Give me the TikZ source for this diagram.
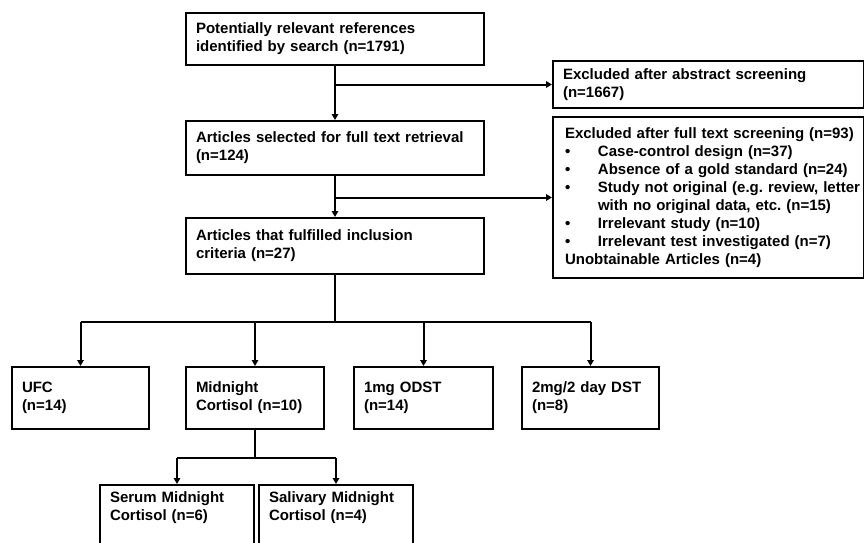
\documentclass[tikz,border=0pt]{standalone}
\usepackage{fontspec}
\setmainfont{Liberation Sans}
\usetikzlibrary{arrows.meta}
\frenchspacing
\newcommand{\bul}{\makebox[33pt][l]{•}}
\begin{document}
\begin{tikzpicture}[x=1pt,y=-1pt,
  box/.style={draw=black, line width=2pt, anchor=north west, align=left,
    inner xsep=10pt, inner ysep=0pt, font=\fontsize{15pt}{18pt}\selectfont\bfseries\frenchspacing},
  conn/.style={line width=2pt, draw=black},
  arr/.style={conn, -{Triangle[length=6pt,width=6.5pt]}}]
\useasboundingbox (0,0) rectangle (864,543);
\clip (0,0) rectangle (864,543);
\fill[white] (0,0) rectangle (864,543);
% main column
\node[box, minimum width=298pt, minimum height=52pt, text width=278pt] (b1) at (185,12)
  {Potentially relevant references\\identified by search (n=1791)};
\node[box, minimum width=298pt, minimum height=54pt, text width=278pt] (b2) at (185,120)
  {Articles selected for full text retrieval\\(n=124)};
\node[box, minimum width=298pt, minimum height=56pt, text width=278pt] (b3) at (185,217)
  {Articles that fulfilled inclusion\\criteria (n=27)};
% exclusions
\node[box, minimum width=311pt, minimum height=47pt, text width=291pt] (ex1) at (552,60)
  {Excluded after abstract screening\\(n=1667)};
\node[box, minimum width=311pt, minimum height=161pt, text width=287pt, inner xsep=12pt, inner ysep=4pt] (ex2) at (552,116)
  {\mbox{Excluded after full text screening (n=93)}\\
   \mbox{\bul Case-control design (n=37)}\\
   \mbox{\bul Absence of a gold standard (n=24)}\\
   \mbox{\bul Study not original (e.g. review, letter}\\
   \mbox{\hspace*{33pt}with no original data, etc. (n=15)}\\
   \mbox{\bul Irrelevant study (n=10)}\\
   \mbox{\bul Irrelevant test investigated (n=7)}\\
   \mbox{Unobtainable Articles (n=4)}};
% tests
\node[box, minimum width=137pt, minimum height=62pt, text width=117pt] (ufc) at (11,366)
  {UFC\\(n=14)};
\node[box, minimum width=138pt, minimum height=62pt, text width=118pt] (mid) at (185,366)
  {Midnight\\Cortisol (n=10)};
\node[box, minimum width=139pt, minimum height=62pt, text width=119pt] (odst) at (353,366)
  {1mg ODST\\(n=14)};
\node[box, minimum width=137pt, minimum height=62pt, text width=117pt] (dst) at (521,366)
  {2mg/2 day DST\\(n=8)};
% midnight subtypes (boxes run past the bottom edge)
\node[box, minimum width=154pt, text width=134pt, inner ysep=7pt, text depth=40pt] (serum) at (99,484)
  {Serum Midnight\\Cortisol (n=6)};
\node[box, minimum width=154pt, text width=134pt, inner ysep=7pt, text depth=40pt] (saliv) at (258,484)
  {Salivary Midnight\\Cortisol (n=4)};
% connectors
\coordinate (j1) at (b1.south |- ex1.west);
\coordinate (j2) at (b2.south |- ex2.west);
\draw[arr] (b1.south) -- (b2.north);
\draw[arr] (j1) -- (ex1.west);
\draw[arr] (b2.south) -- (b3.north);
\draw[arr] (j2) -- (ex2.west);
\coordinate (j3) at ([yshift=-47pt]b3.south);
\draw[conn] (b3.south) -- (j3);
\draw[conn] (ufc.north |- j3) -- (dst.north |- j3);
\foreach \t in {ufc,mid,odst,dst}{
  \draw[arr] (\t.north |- j3) -- (\t.north);
}
\coordinate (j4) at ([yshift=-28pt]mid.south);
\draw[conn] (mid.south) -- (j4);
\draw[conn] (serum.north |- j4) -- (saliv.north |- j4);
\draw[arr] (serum.north |- j4) -- (serum.north);
\draw[arr] (saliv.north |- j4) -- (saliv.north);
\end{tikzpicture}
\end{document}
